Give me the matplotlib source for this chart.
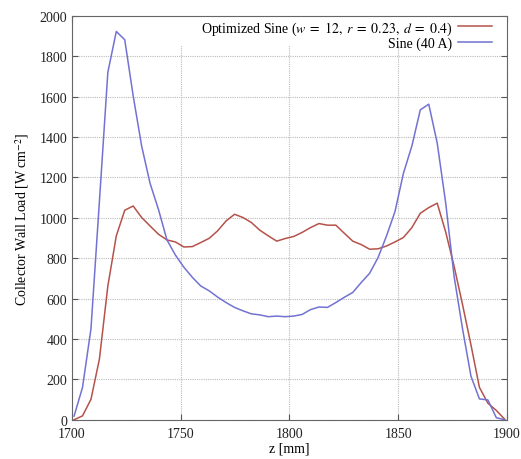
import matplotlib
matplotlib.use('Agg')
import matplotlib.pyplot as plt
from matplotlib.patches import Rectangle
import numpy as np

plt.rcParams['font.family'] = ['Liberation Serif', 'DejaVu Serif']
plt.rcParams['mathtext.fontset'] = 'stix'

# axial positions of the collector samples [mm]
z = np.linspace(1701, 1899, 52)

# wall load for the optimized sweep [W/cm^2]
optimized = [0, 19, 101, 300, 662, 910, 1037, 1058, 1001, 959,
             918, 890, 880, 855, 857, 877, 898, 935, 984, 1017,
             1001, 976, 938, 910, 884, 897, 907, 927, 951, 971,
             963, 963, 923, 884, 867, 844, 846, 860, 880, 902,
             951, 1022, 1050, 1072, 930, 760, 570, 370, 160, 82,
             46, 2]

# wall load for the plain sine sweep at 40 A [W/cm^2]
sine = [18, 160, 450, 1080, 1720, 1922, 1881, 1603, 1355, 1170,
        1040, 890, 815, 755, 705, 662, 638, 607, 580, 556,
        539, 524, 519, 510, 513, 510, 513, 521, 545, 558,
        556, 580, 606, 630, 679, 725, 803, 910, 1030, 1220,
        1355, 1534, 1562, 1370, 1075, 710, 450, 215, 103, 98,
        10, 0]

labels = [r'Optimized Sine ($w\;=\;12,\; r\;=\;0.23,\; d\;=\;0.4$)', 'Sine (40 A)']

fig = plt.figure(figsize=(5.21, 4.60), dpi=100)
ax = fig.add_axes([0.138, 0.0854, 0.835, 0.8783])

ax.plot(z, optimized, color='#b5524a', lw=1.1, label=labels[0])
ax.plot(z, sine, color='#7272d2', lw=1.1, label=labels[1])

ax.set_xlim(1700, 1900)
ax.set_ylim(0, 2000)
ax.set_xticks([1700, 1750, 1800, 1850, 1900])
ax.set_yticks(np.arange(0, 2001, 200))

ax.grid(True, color='#bbbbbb', linestyle=(0, (1, 1)), lw=0.8)
ax.set_axisbelow(True)
ax.tick_params(direction='in', top=True, right=True, length=4,
               labelsize=10, colors='#555555', labelcolor='#222222')
ax.tick_params(axis='x', pad=5)
for sp in ax.spines.values():
    sp.set_color('#666666')
    sp.set_linewidth(0.8)

# opaque key area, blanks the grid behind the legend like gnuplot does
ax.add_patch(Rectangle((0.2, 0.925), 0.8, 0.075, transform=ax.transAxes,
                       facecolor='white', edgecolor='none', zorder=1))

ax.set_xlabel('z [mm]', fontsize=10, labelpad=1)
ax.set_ylabel(r'Collector Wall Load [W cm$^{-2}$]', fontsize=10, labelpad=6)

ax.legend(loc='upper right', markerfirst=False, frameon=False,
          fontsize=10, handlelength=2.4, handletextpad=0.45,
          labelspacing=0.0, borderaxespad=0.0, borderpad=0.25,
          bbox_to_anchor=(0.973, 1.0))

fig.savefig('out.png', dpi=100)
